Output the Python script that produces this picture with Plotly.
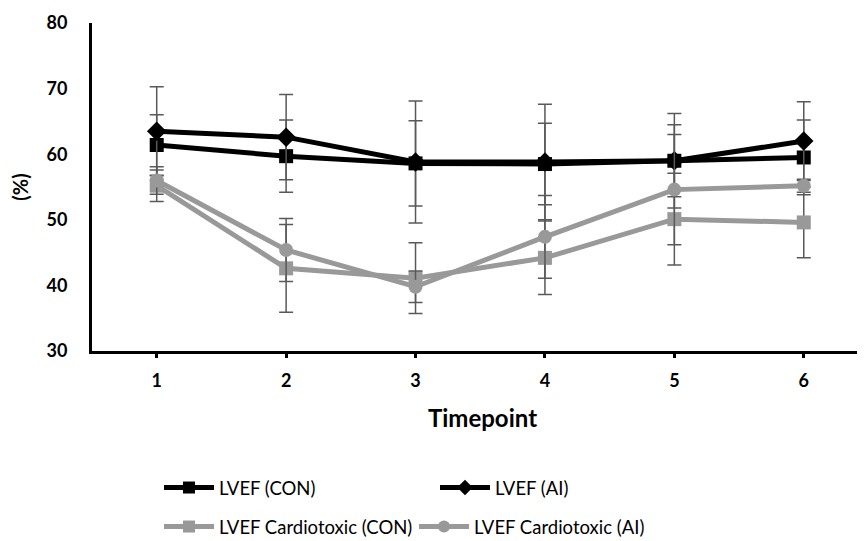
import plotly.graph_objects as go

timepoints = [1, 2, 3, 4, 5, 6]
tick_labels = ["1", "2", "3", "4", "5", "6"]

lvef_con = [61.4, 59.7, 58.6, 58.5, 59.0, 59.5]
lvef_con_err = [4.6, 5.5, 6.5, 6.2, 5.5, 5.7]
lvef_ai = [63.5, 62.6, 58.8, 58.8, 59.0, 62.0]
lvef_ai_err = [6.8, 6.5, 9.3, 8.8, 7.2, 6.0]
cardio_con = [55.2, 42.6, 41.1, 44.2, 50.1, 49.6]
cardio_con_err = [2.4, 6.7, 5.4, 5.6, 7.0, 5.4]
cardio_ai = [56.0, 45.4, 39.8, 47.4, 54.6, 55.2]
cardio_ai_err = [2.1, 4.8, 2.4, 6.3, 8.4, 1.0]

BLACK = "#000000"
GRAY = "#999999"
ERR = "#595959"
FONT = "Lato"

series = [
    ("LVEF (CON)", lvef_con, lvef_con_err, BLACK, "square", 14, "legend"),
    ("LVEF (AI)", lvef_ai, lvef_ai_err, BLACK, "diamond", 15, "legend2"),
    ("LVEF Cardiotoxic (CON)", cardio_con, cardio_con_err, GRAY, "square", 14, "legend3"),
    ("LVEF Cardiotoxic (AI)", cardio_ai, cardio_ai_err, GRAY, "circle", 14, "legend4"),
]

fig = go.Figure()
for name, vals, errs, col, sym, size, leg in series:
    fig.add_trace(go.Scatter(
        x=timepoints, y=vals, name=name, mode="lines+markers",
        line=dict(color=col, width=5),
        marker=dict(symbol=sym, size=size, color=col),
        error_y=dict(type="data", array=errs, visible=True, color=ERR,
                     thickness=1.5, width=7),
        legend=leg, showlegend=True,
    ))

leg_common = dict(orientation="h", xref="container", yref="container",
                  xanchor="left", yanchor="middle", itemwidth=50,
                  font=dict(family=FONT, size=18.5, color="#000"),
                  bgcolor="rgba(0,0,0,0)", itemsizing="constant")

row1 = 61 / 541
row2 = 22 / 541

fig.update_layout(
    width=865, height=541,
    margin=dict(l=84, r=0, t=15, b=198),
    showlegend=True,
    paper_bgcolor="white", plot_bgcolor="white",
    font=dict(family=FONT, color="#000"),
    legend=dict(x=151/865, y=row1, **leg_common),
    legend2=dict(x=427/865, y=row1, **leg_common),
    legend3=dict(x=151/865, y=row2, **leg_common),
    legend4=dict(x=406/865, y=row2, **leg_common),
    xaxis=dict(
        range=[0.5, 6.535], tickvals=timepoints, ticktext=tick_labels,
        showline=True, linewidth=3, linecolor=BLACK, showgrid=False,
        zeroline=False, ticks="outside", ticklen=4, tickwidth=3, tickcolor=BLACK,
        tickfont=dict(family=FONT, size=18, color="#000", weight="bold"),
        ticklabelstandoff=7,
        title=dict(text="<b>Timepoint</b>", font=dict(family=FONT, size=24, color="#000"),
                   standoff=21),
    ),
    yaxis=dict(
        range=[30, 80], tickvals=[30, 40, 50, 60, 70, 80],
        showline=True, linewidth=3, linecolor=BLACK, showgrid=False,
        zeroline=False, ticks="",
        tickfont=dict(family=FONT, size=18, color="#000", weight="bold"),
        ticklabelstandoff=18,
        title=dict(text="<b>(%)</b>", font=dict(family=FONT, size=20, color="#000"),
                   standoff=14),
    ),
)

fig.write_html("out.html")
